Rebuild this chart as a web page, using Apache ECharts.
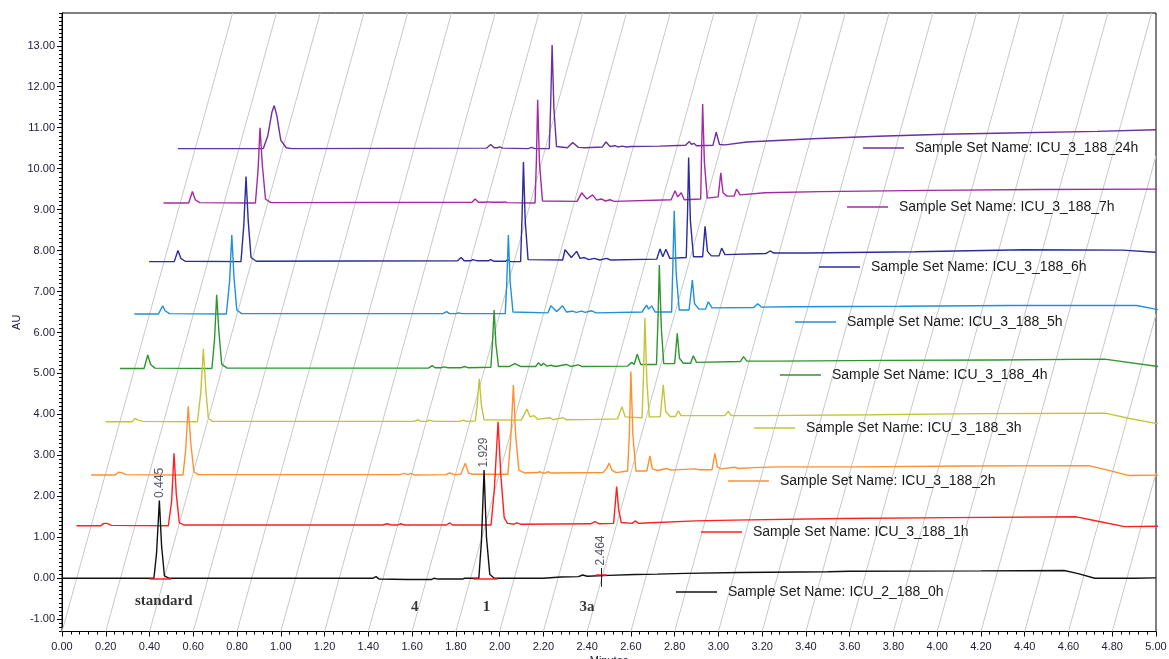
<!DOCTYPE html>
<html>
<head>
<meta charset="utf-8">
<title>ICU_3_188 chromatogram overlay</title>
<script src="https://cdn.jsdelivr.net/npm/echarts@6/dist/echarts.min.js"></script>
<style>
  html, body { margin: 0; padding: 0; background: #fff; }
  #graph { width: 1169px; height: 659px; }
</style>
</head>
<body>
<div id="graph"></div>
<script>
// sample sets, front (0h) to back (24h)
const traceNames = [
  'Sample Set Name: ICU_2_188_0h',
  'Sample Set Name: ICU_3_188_1h',
  'Sample Set Name: ICU_3_188_2h',
  'Sample Set Name: ICU_3_188_3h',
  'Sample Set Name: ICU_3_188_4h',
  'Sample Set Name: ICU_3_188_5h',
  'Sample Set Name: ICU_3_188_6h',
  'Sample Set Name: ICU_3_188_7h',
  'Sample Set Name: ICU_3_188_24h'
]
// 3D stacking: shift of each trace in minutes and AU
const stackShiftMin = [0, 0.066, 0.133, 0.199, 0.265, 0.331, 0.398, 0.464, 0.530]
const stackShiftAU = [0, 1.28, 2.52, 3.82, 5.12, 6.45, 7.73, 9.16, 10.49]

// [minutes, AU], relative to its own start
const trace0h = [[0, 0], [0.42, 0], [0.432, 0.6], [0.445, 1.9], [0.455, 0.8], [0.468, 0.06], [0.49, 0],
  [1.42, 0], [1.435, 0.04], [1.45, -0.02], [1.58, -0.03], [1.69, -0.03], [1.70, 0], [1.72, -0.02], [1.83, -0.02], [1.84, 0],
  [1.905, 0], [1.917, 0.9], [1.929, 2.64], [1.94, 1.0], [1.955, 0.1], [1.975, 0],
  [2.2, 0], [2.28, 0.03], [2.36, 0.04], [2.38, 0.08], [2.40, 0.05], [2.5, 0.07], [2.62, 0.09], [2.72, 0.1], [2.85, 0.12],
  [3.1, 0.14], [3.5, 0.16], [3.6, 0.17], [4.2, 0.18], [4.58, 0.19], [4.64, 0.12], [4.72, 0], [4.9, 0], [5.0, 0.01]]
const trace1h = [[0, 0], [0.11, 0], [0.125, 0.06], [0.14, 0.06], [0.16, 0.01], [0.42, 0], [0.435, 0.6], [0.446, 1.77], [0.456, 0.8], [0.47, 0.08], [0.49, 0.02],
  [1.40, 0.02], [1.42, 0.05], [1.44, 0.02], [1.47, 0.02], [1.48, 0.05], [1.50, 0.02], [1.69, 0.02], [1.707, 0.07], [1.72, 0.02],
  [1.895, 0.02], [1.91, 0.9], [1.927, 2.54], [1.94, 1.2], [1.955, 0.2], [1.97, 0.06], [2.0, 0.04], [2.012, 0.07], [2.03, 0.04],
  [2.35, 0.05], [2.37, 0.1], [2.39, 0.05], [2.455, 0.06], [2.462, 0.5], [2.469, 0.96], [2.478, 0.4], [2.49, 0.08],
  [2.54, 0.06], [2.553, 0.12], [2.57, 0.06], [2.6, 0.07], [2.83, 0.12], [3.0, 0.14], [3.5, 0.18], [4.0, 0.2],
  [4.57, 0.22], [4.68, 0.1], [4.79, -0.02], [4.95, -0.01]]
const trace2h = [[0, 0], [0.11, 0], [0.125, 0.07], [0.14, 0.06], [0.16, 0.01], [0.42, 0], [0.432, 0.6], [0.444, 1.68], [0.455, 0.8], [0.47, 0.08], [0.49, 0.01],
  [1.41, 0.01], [1.43, 0.04], [1.45, 0.01], [1.46, 0.04], [1.48, 0], [1.62, 0.01], [1.64, 0.05], [1.66, 0.01],
  [1.69, 0.02], [1.71, 0.29], [1.725, 0.05], [1.74, 0.02],
  [1.905, 0.02], [1.918, 0.9], [1.93, 2.2], [1.94, 1.0], [1.955, 0.12], [1.98, 0.05], [2.04, 0.06], [2.05, 0.08], [2.07, 0.04], [2.09, 0.08], [2.1, 0.05],
  [2.34, 0.06], [2.355, 0.15], [2.368, 0.29], [2.38, 0.12], [2.40, 0.06], [2.452, 0.1], [2.46, 1.0], [2.467, 2.53], [2.476, 1.0], [2.49, 0.1],
  [2.54, 0.1], [2.554, 0.47], [2.565, 0.15], [2.59, 0.11], [2.63, 0.16], [2.65, 0.12], [2.76, 0.15], [2.78, 0.13],
  [2.838, 0.13], [2.851, 0.53], [2.862, 0.2], [2.88, 0.15], [2.94, 0.19], [2.96, 0.16], [3.03, 0.18], [3.14, 0.2],
  [3.5, 0.2], [4.0, 0.22], [4.56, 0.23], [4.66, 0.1], [4.74, -0.01], [4.9, 0]]
const trace3h = [[0, 0], [0.12, 0], [0.135, 0.08], [0.15, 0.04], [0.17, 0.01], [0.42, 0], [0.435, 0.7], [0.447, 1.78], [0.458, 0.8], [0.47, 0.08], [0.49, 0.01],
  [1.41, 0.01], [1.428, 0.05], [1.44, 0.01], [1.47, 0.01], [1.48, 0.04], [1.50, 0.01], [1.62, 0.01], [1.634, 0.04], [1.65, 0.01],
  [1.69, 0.02], [1.70, 0.5], [1.708, 1.05], [1.718, 0.4], [1.73, 0.05], [1.9, 0.04], [1.926, 0.31], [1.94, 0.12], [1.958, 0.15], [1.975, 0.06],
  [2.03, 0.1], [2.045, 0.05], [2.09, 0.1], [2.105, 0.05], [2.237, 0.06], [2.34, 0.07], [2.36, 0.37], [2.375, 0.12],
  [2.452, 0.1], [2.459, 1.2], [2.465, 2.54], [2.474, 1.0], [2.485, 0.12], [2.535, 0.12], [2.549, 0.9], [2.56, 0.25], [2.58, 0.13],
  [2.605, 0.13], [2.618, 0.27], [2.63, 0.15], [2.83, 0.15], [2.846, 0.25], [2.86, 0.15], [3.0, 0.15], [3.5, 0.17], [4.0, 0.2],
  [4.57, 0.21], [4.68, 0.08], [4.8, -0.04], [4.9, -0.04]]
const trace4h = [[0, 0], [0.11, 0], [0.127, 0.33], [0.14, 0.1], [0.16, 0.01], [0.42, 0], [0.432, 0.7], [0.442, 1.8], [0.452, 0.9], [0.465, 0.1], [0.49, 0.01],
  [1.41, 0.01], [1.427, 0.07], [1.44, 0.02], [1.47, 0.02], [1.48, 0.04], [1.50, 0.02], [1.56, 0.02], [1.575, 0.05], [1.59, 0.02],
  [1.695, 0.03], [1.702, 0.6], [1.71, 1.43], [1.718, 0.6], [1.73, 0.05], [1.78, 0.05], [1.805, 0.12], [1.83, 0.05],
  [1.9, 0.05], [1.913, 0.14], [1.925, 0.07], [1.935, 0.13], [1.95, 0.06], [1.97, 0.08], [1.99, 0.05], [2.04, 0.1], [2.06, 0.05], [2.095, 0.09], [2.11, 0.05],
  [2.32, 0.06], [2.339, 0.15], [2.35, 0.1], [2.364, 0.35], [2.38, 0.1], [2.452, 0.1], [2.459, 1.2], [2.465, 2.53], [2.474, 1.0], [2.485, 0.12],
  [2.535, 0.12], [2.547, 0.86], [2.557, 0.25], [2.575, 0.13], [2.608, 0.13], [2.62, 0.31], [2.635, 0.15],
  [2.835, 0.17], [2.85, 0.29], [2.865, 0.18], [3.0, 0.18], [3.5, 0.2], [4.0, 0.21], [4.5, 0.23], [4.8, 0.01]]
const trace5h = [[0, 0], [0.11, 0], [0.129, 0.2], [0.14, 0.08], [0.16, 0.01], [0.42, 0], [0.435, 0.8], [0.445, 1.93], [0.455, 0.9], [0.468, 0.1], [0.49, 0.01],
  [1.41, 0.01], [1.427, 0.06], [1.44, 0.01], [1.47, 0.01], [1.48, 0.03], [1.50, 0.01],
  [1.695, 0.01], [1.702, 0.8], [1.709, 1.93], [1.717, 0.8], [1.73, 0.05], [1.89, 0.03], [1.903, 0.2], [1.93, 0.06], [1.957, 0.2], [1.975, 0.05],
  [2.0, 0.07], [2.02, 0.04], [2.044, 0.07], [2.06, 0.04], [2.09, 0.08], [2.11, 0.03],
  [2.32, 0.05], [2.341, 0.22], [2.35, 0.12], [2.364, 0.2], [2.38, 0.05], [2.455, 0.05], [2.461, 1.2], [2.467, 2.52], [2.476, 1.0], [2.49, 0.1],
  [2.535, 0.1], [2.55, 0.83], [2.56, 0.25], [2.58, 0.12], [2.61, 0.12], [2.623, 0.3], [2.64, 0.15],
  [2.83, 0.16], [2.849, 0.25], [2.865, 0.17], [3.0, 0.18], [3.5, 0.19], [4.0, 0.21], [4.58, 0.21], [4.8, -0.02]]
const trace6h = [[0, 0], [0.115, 0], [0.132, 0.27], [0.145, 0.08], [0.165, 0.01], [0.42, 0], [0.433, 0.9], [0.443, 2.08], [0.453, 1.0], [0.466, 0.1], [0.49, 0.01],
  [1.41, 0.02], [1.426, 0.1], [1.44, 0.02], [1.47, 0.02], [1.48, 0.05], [1.50, 0.02], [1.55, 0.02], [1.561, 0.05], [1.575, 0.01], [1.63, 0.01], [1.64, 0.05], [1.65, 0],
  [1.698, 0], [1.704, 1.0], [1.711, 2.43], [1.719, 1.0], [1.732, 0.05], [1.89, 0.04], [1.901, 0.29], [1.93, 0.1], [1.954, 0.25], [1.97, 0.08],
  [1.989, 0.1], [2.01, 0.05], [2.035, 0.08], [2.06, 0.04], [2.09, 0.08], [2.11, 0.04],
  [2.32, 0.06], [2.335, 0.31], [2.348, 0.12], [2.362, 0.3], [2.38, 0.08], [2.455, 0.1], [2.461, 1.2], [2.466, 2.54], [2.474, 1.0], [2.488, 0.12],
  [2.53, 0.12], [2.541, 0.86], [2.552, 0.25], [2.57, 0.14], [2.605, 0.14], [2.617, 0.33], [2.632, 0.17],
  [2.82, 0.2], [2.838, 0.26], [2.855, 0.21], [3.0, 0.21], [3.5, 0.24], [4.0, 0.29], [4.45, 0.28], [4.6, 0.23]]
const trace7h = [[0, 0], [0.115, 0], [0.132, 0.28], [0.145, 0.08], [0.165, 0.01], [0.42, 0], [0.432, 0.8], [0.441, 1.84], [0.452, 0.9], [0.466, 0.1], [0.49, 0.01],
  [1.41, 0.02], [1.424, 0.1], [1.44, 0.02], [1.47, 0.02], [1.48, 0.03], [1.50, 0.02], [1.55, 0.02], [1.56, 0.03], [1.57, 0.01],
  [1.698, 0], [1.704, 1.0], [1.71, 2.52], [1.718, 1.0], [1.732, 0.05], [1.89, 0.04], [1.911, 0.25], [1.935, 0.1], [1.961, 0.2], [1.98, 0.07],
  [2.0, 0.1], [2.02, 0.05], [2.04, 0.08], [2.06, 0.04],
  [2.32, 0.08], [2.338, 0.3], [2.35, 0.15], [2.366, 0.25], [2.38, 0.08], [2.455, 0.1], [2.459, 1.2], [2.464, 2.42], [2.472, 1.0], [2.485, 0.12],
  [2.535, 0.15], [2.547, 0.74], [2.557, 0.25], [2.575, 0.17], [2.608, 0.17], [2.619, 0.34], [2.635, 0.2],
  [2.75, 0.25], [3.0, 0.28], [3.5, 0.31], [4.0, 0.33], [4.54, 0.34]]
const trace24h = [[0, 0], [0.39, 0], [0.41, 0.3], [0.43, 0.9], [0.44, 1.05], [0.452, 0.8], [0.47, 0.2], [0.495, 0.02], [0.52, 0],
  [1.41, 0.01], [1.429, 0.1], [1.445, 0.02], [1.46, 0.02], [1.47, 0.04], [1.485, 0.01], [1.6, 0], [1.617, 0.03], [1.63, 0],
  [1.697, 0], [1.703, 1.0], [1.71, 2.53], [1.718, 1.0], [1.73, 0.05], [1.78, 0.02], [1.804, 0.15], [1.83, 0.03], [1.86, 0.02],
  [1.94, 0.04], [1.956, 0.16], [1.975, 0.05], [1.997, 0.07], [2.01, 0.04], [2.03, 0.06], [2.05, 0.04], [2.07, 0.05], [2.2, 0.06],
  [2.32, 0.08], [2.337, 0.17], [2.348, 0.1], [2.358, 0.13], [2.37, 0.07], [2.445, 0.08], [2.46, 0.4], [2.475, 0.1], [2.5, 0.09],
  [2.6, 0.16], [2.9, 0.24], [3.2, 0.3], [3.5, 0.35], [3.8, 0.38], [4.2, 0.42], [4.47, 0.46]]
const traces = [trace0h, trace1h, trace2h, trace3h, trace4h, trace5h, trace6h, trace7h, trace24h]

// peak apex labels on the 0h trace
const peakTimes = [0.445, 1.929, 2.464]
const peakHeights = [1.9, 2.64, 0.25]
// compound names under the front trace
const compoundNames = ['standard', '4', '1', '3a']
const compoundTimes = [0.465, 1.612, 1.94, 2.40]
const compoundRows = [-0.55, -0.7, -0.7, -0.7]
// integration baselines drawn in red on the 0h trace
const integrationSpans = [[0.40, 0.50, 0], [1.88, 1.99, 0], [2.44, 2.49, 0.08]]
const markerTick = [2.464, -0.21, 0.25]

const yTickLabels = [-1, 0, 1, 2, 3, 4, 5, 6, 7, 8, 9, 10, 11, 12, 13]

const colors = ['#111111', '#ff2020', '#ff9030', '#c4c43a', '#2f962f', '#2090d8', '#2c2c9c', '#a32aa3', '#6a2fa0']
const legendPos = [[676, 584], [701, 524], [728, 473], [754, 420], [780, 367], [795, 314], [819, 259], [847, 199], [863, 140]]

const X_MIN = 0
const X_MAX = 5
const Y_MIN = -1.3
const Y_MAX = 13.8
const DIAG_SHIFT = 0.78 // minutes the oblique grid lines lean over the full height
const labelColor = '#20203a'
const font = 'Liberation Sans, Arial, sans-serif'

const dom = document.getElementById('graph')
const chart = echarts.init(dom)

// oblique grid lines, one every 0.2 min, cut at the right frame
const diagLines = []
for (let k = 0; k < 25; k++) {
  const x0 = k * 0.2
  let x1 = x0 + DIAG_SHIFT
  let y1 = Y_MAX
  if (x1 > X_MAX) {
    y1 = Y_MIN + (X_MAX - x0) / DIAG_SHIFT * (Y_MAX - Y_MIN)
    x1 = X_MAX
  }
  diagLines.push({ coords: [[x0, Y_MIN], [x1, y1]] })
}

const series = [{
  type: 'lines',
  coordinateSystem: 'cartesian2d',
  silent: true,
  z: 1,
  lineStyle: { color: '#c8c8c8', width: 1, opacity: 1 },
  data: diagLines
}]

// back traces first so front ones sit on top
for (let i = traces.length - 1; i >= 0; i--) {
  series.push({
    name: traceNames[i],
    type: 'line',
    z: 3,
    showSymbol: false,
    symbol: 'none',
    clip: true,
    color: colors[i],
    lineStyle: { color: colors[i], width: 1.4 },
    data: traces[i].map(p => [p[0] + stackShiftMin[i], p[1] + stackShiftAU[i]])
  })
}

series.push({
  type: 'lines',
  coordinateSystem: 'cartesian2d',
  silent: true,
  z: 4,
  lineStyle: { color: '#ff2020', width: 1.6, opacity: 1 },
  data: integrationSpans.map(s => ({ coords: [[s[0], s[2]], [s[1], s[2]]] }))
})
series.push({
  type: 'lines',
  coordinateSystem: 'cartesian2d',
  silent: true,
  z: 4,
  lineStyle: { color: '#222', width: 1, opacity: 1 },
  data: [{ coords: [[markerTick[0], markerTick[1]], [markerTick[0], markerTick[2]]] }]
})

series.push({
  type: 'scatter',
  silent: true,
  z: 5,
  symbolSize: 1,
  itemStyle: { color: 'rgba(0,0,0,0)' },
  label: {
    show: true,
    position: 'top',
    distance: 2,
    rotate: 90,
    align: 'left',
    verticalAlign: 'middle',
    fontSize: 12,
    fontFamily: font,
    color: '#2a2a3e',
    formatter: p => p.value[0].toFixed(3)
  },
  data: peakTimes.map((t, i) => [t, peakHeights[i]])
})

series.push({
  type: 'scatter',
  silent: true,
  z: 5,
  symbolSize: 1,
  itemStyle: { color: 'rgba(0,0,0,0)' },
  label: {
    show: true,
    position: 'inside',
    fontSize: 15,
    fontWeight: 'bold',
    fontFamily: 'Liberation Serif, Times New Roman, serif',
    color: '#000',
    formatter: p => compoundNames[p.dataIndex]
  },
  data: compoundTimes.map((t, i) => [t, compoundRows[i]])
})

const legends = traceNames.map((name, i) => ({
  data: [name],
  left: legendPos[i][0],
  top: legendPos[i][1],
  padding: 0,
  icon: 'rect',
  itemWidth: 41,
  itemHeight: 1.3,
  selectedMode: false,
  textStyle: {
    fontSize: 14,
    lineHeight: 16,
    fontFamily: font,
    color: '#1a1a1a',
    padding: [0, 0, 0, 6]
  }
}))

const option = {
  animation: false,
  backgroundColor: '#fff',
  grid: {
    left: 62,
    right: 13,
    top: 13,
    bottom: 27.5,
    outerBoundsMode: 'none',
    containLabel: false,
    show: true,
    borderColor: '#000',
    borderWidth: 1
  },
  legend: legends,
  xAxis: {
    type: 'value',
    min: X_MIN,
    max: X_MAX,
    interval: 0.2,
    name: 'Minutes',
    nameLocation: 'middle',
    nameGap: 24,
    nameMoveOverlap: false,
    nameTextStyle: { fontSize: 11, fontFamily: font, color: labelColor },
    axisLine: { onZero: false, lineStyle: { color: '#000' } },
    axisTick: { length: 5, lineStyle: { color: '#000' } },
    minorTick: { show: true, splitNumber: 5, length: 3, lineStyle: { color: '#000' } },
    splitLine: { show: false },
    axisLabel: {
      fontSize: 11,
      fontFamily: font,
      color: labelColor,
      margin: 10,
      formatter: v => v.toFixed(2)
    }
  },
  yAxis: [{
    type: 'value',
    min: Y_MIN,
    max: Y_MAX,
    name: 'AU',
    nameLocation: 'middle',
    nameGap: 40,
    nameMoveOverlap: false,
    nameTextStyle: { fontSize: 11, fontFamily: font, color: labelColor },
    axisLine: { show: true, onZero: false, lineStyle: { color: '#000' } },
    axisTick: { show: true, length: 5, customValues: yTickLabels, lineStyle: { color: '#000' } },
    splitLine: { show: false },
    axisLabel: {
      fontSize: 11,
      fontFamily: font,
      color: labelColor,
      margin: 7,
      customValues: yTickLabels,
      formatter: v => v.toFixed(2)
    }
  }, {
    type: 'value',
    position: 'left',
    min: Y_MIN,
    max: Y_MAX,
    interval: 0.1,
    axisLine: { show: false, onZero: false },
    axisTick: { show: true, length: 3, lineStyle: { color: '#000' } },
    axisLabel: { show: false },
    splitLine: { show: false }
  }],
  series
}

chart.setOption(option, true)
</script>
</body>
</html>
